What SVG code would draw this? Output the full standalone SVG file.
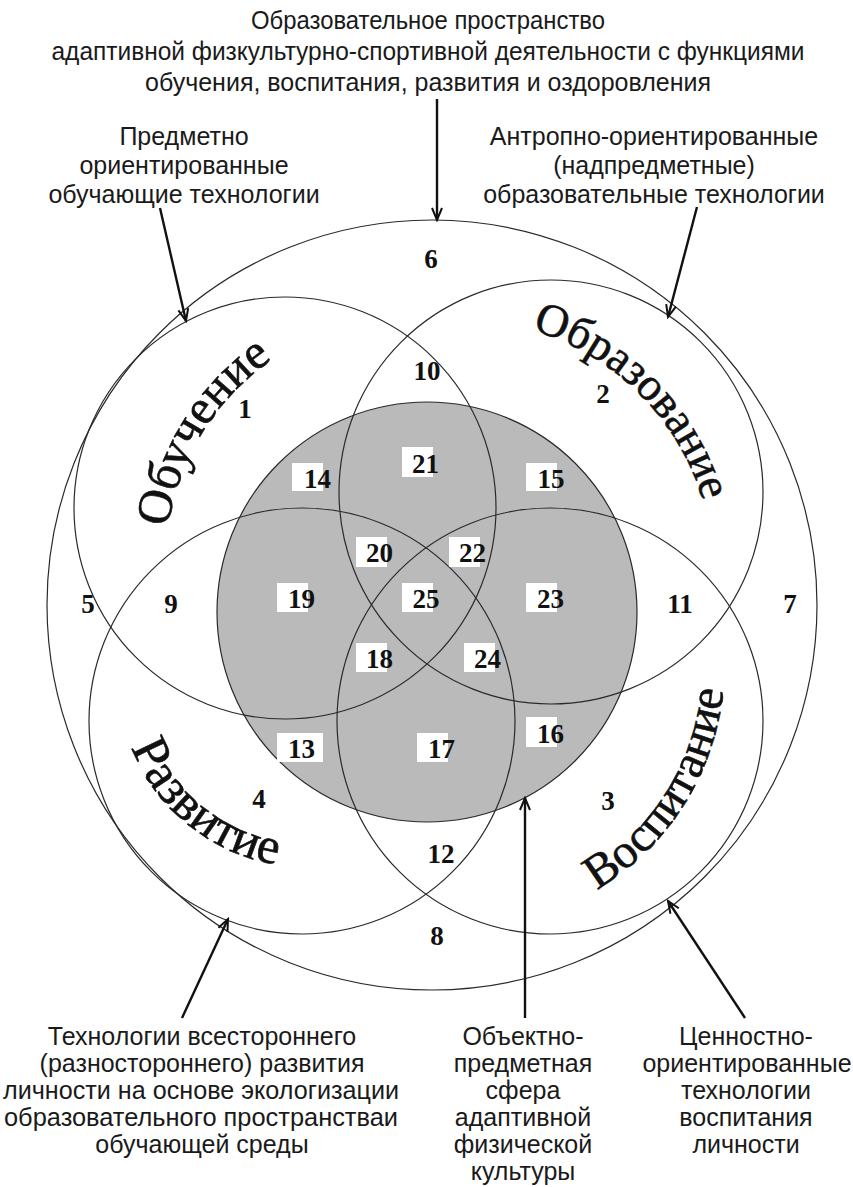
<svg xmlns="http://www.w3.org/2000/svg" width="853" height="1187" viewBox="0 0 853 1187">
<style>
.c{fill:none;stroke:#2a2a2a;stroke-width:1.2}
.lbl{font-family:"Liberation Sans",Arial,sans-serif;font-size:25px;fill:#1a1a1a;text-anchor:middle}
.n{font-family:"Liberation Serif","Times New Roman",serif;font-size:27px;font-weight:bold;fill:#111;text-anchor:middle}
.big{font-family:"Liberation Serif","Times New Roman",serif;font-size:49px;fill:#111;stroke:#111;stroke-width:0.6}
.box{fill:#fff}
.ar{fill:none;stroke:#111;stroke-width:2.4}
</style>
<defs>
<marker id="ah" viewBox="-14 -7 16 14" markerWidth="16" markerHeight="14" refX="0" refY="0" orient="auto" markerUnits="userSpaceOnUse"><path d="M-12,-5 L0,0 L-12,5" fill="none" stroke="#111" stroke-width="2"/></marker>
<path id="pOb" d="M170.6,611.2 A246,246 0 0 1 348.7,324.5"/>
<path id="pObr" d="M461,320 A252,252 0 0 1 713,572"/>
<path id="pRaz" d="M119.1,698.1 A189,189 0 0 0 327.1,865.9"/>
<path id="pVos" d="M520.1,920.6 A262,262 0 0 0 718.1,607.4"/>
</defs>
<rect width="853" height="1187" fill="#fff"/>
<g id="outer"><circle class="c" cx="432" cy="605" r="385"/></g>
<g id="core"><circle cx="427" cy="612" r="210" fill="#bababa" stroke="#2a2a2a" stroke-width="1.2"/></g>
<g id="obuchenie"><circle class="c" cx="285" cy="508" r="211"/><text class="big"><textPath href="#pOb" startOffset="50%" text-anchor="middle">Обучение</textPath></text></g>
<g id="obrazovanie"><circle class="c" cx="551" cy="492" r="212"/><text class="big" style="font-size:46px"><textPath href="#pObr" startOffset="50%" text-anchor="middle">Образование</textPath></text></g>
<g id="razvitie"><circle class="c" cx="302" cy="721" r="213"/><text class="big" style="font-size:51px"><textPath href="#pRaz" startOffset="50%" text-anchor="middle">Развитие</textPath></text></g>
<g id="vospitanie"><circle class="c" cx="550" cy="721" r="213"/><text class="big" style="font-size:48px"><textPath href="#pVos" startOffset="50%" text-anchor="middle">Воспитание</textPath></text></g>
<g id="boxes">
<rect class="box" x="292" y="463" width="31" height="28"/>
<rect class="box" x="402" y="447" width="31" height="30"/>
<rect class="box" x="526" y="463" width="31" height="28"/>
<rect class="box" x="356" y="537" width="31" height="30"/>
<rect class="box" x="449" y="537" width="31" height="30"/>
<rect class="box" x="277" y="583" width="31" height="29"/>
<rect class="box" x="402" y="583" width="31" height="29"/>
<rect class="box" x="526" y="583" width="31" height="29"/>
<rect class="box" x="356" y="643" width="31" height="29"/>
<rect class="box" x="464" y="643" width="31" height="29"/>
<rect class="box" x="277" y="733" width="46" height="29"/>
<rect class="box" x="417" y="733" width="31" height="29"/>
<rect class="box" x="526" y="717" width="31" height="30"/>
</g>
<g id="numbers">
<text class="n" x="245" y="418">1</text>
<text class="n" x="603" y="403">2</text>
<text class="n" x="608" y="810">3</text>
<text class="n" x="259" y="808">4</text>
<text class="n" x="88" y="613">5</text>
<text class="n" x="431" y="268">6</text>
<text class="n" x="790" y="613">7</text>
<text class="n" x="437" y="945">8</text>
<text class="n" x="171" y="613">9</text>
<text class="n" x="427" y="380">10</text>
<text class="n" x="680" y="613">11</text>
<text class="n" x="441" y="863">12</text>
<text class="n" x="301.5" y="758">13</text>
<text class="n" x="317.5" y="488">14</text>
<text class="n" x="551" y="488">15</text>
<text class="n" x="550.5" y="743">16</text>
<text class="n" x="441.5" y="758">17</text>
<text class="n" x="379.5" y="668">18</text>
<text class="n" x="301.5" y="608">19</text>
<text class="n" x="379.5" y="562">20</text>
<text class="n" x="425.5" y="473">21</text>
<text class="n" x="472.5" y="562">22</text>
<text class="n" x="550.5" y="608">23</text>
<text class="n" x="487.5" y="668">24</text>
<text class="n" x="426" y="608">25</text>
</g>
<g id="title">
<text class="lbl" x="428" y="29" textLength="354" lengthAdjust="spacingAndGlyphs">Образовательное пространство</text>
<text class="lbl" x="428" y="60" textLength="753" lengthAdjust="spacingAndGlyphs">адаптивной физкультурно-спортивной деятельности с функциями</text>
<text class="lbl" x="428" y="91" textLength="566" lengthAdjust="spacingAndGlyphs">обучения, воспитания, развития и оздоровления</text>
</g>
<g id="subject-tech">
<text class="lbl" x="184" y="145">Предметно</text>
<text class="lbl" x="184" y="174">ориентированные</text>
<text class="lbl" x="184" y="203">обучающие технологии</text>
</g>
<g id="anthropo-tech">
<text class="lbl" x="654" y="145">Антропно-ориентированные</text>
<text class="lbl" x="654" y="174">(надпредметные)</text>
<text class="lbl" x="654" y="203">образовательные технологии</text>
</g>
<g id="dev-tech">
<text class="lbl" x="202" y="1045">Технологии всестороннего</text>
<text class="lbl" x="202" y="1072">(разностороннего) развития</text>
<text class="lbl" x="201" y="1099" textLength="396" lengthAdjust="spacingAndGlyphs">личности на основе экологизации</text>
<text class="lbl" x="201" y="1126" textLength="394" lengthAdjust="spacingAndGlyphs">образовательного пространстваи</text>
<text class="lbl" x="202" y="1153">обучающей среды</text>
</g>
<g id="object-sphere">
<text class="lbl" x="523" y="1045">Объектно-</text>
<text class="lbl" x="523" y="1072">предметная</text>
<text class="lbl" x="523" y="1099">сфера</text>
<text class="lbl" x="523" y="1126">адаптивной</text>
<text class="lbl" x="523" y="1153">физической</text>
<text class="lbl" x="523" y="1180">культуры</text>
</g>
<g id="value-tech">
<text class="lbl" x="746" y="1045">Ценностно-</text>
<text class="lbl" x="747" y="1072">ориентированные</text>
<text class="lbl" x="746" y="1099">технологии</text>
<text class="lbl" x="746" y="1126">воспитания</text>
<text class="lbl" x="746" y="1153">личности</text>
</g>
<g id="connectors">
<line class="ar" x1="437" y1="99" x2="437" y2="220" marker-end="url(#ah)"/>
<line class="ar" x1="160" y1="208" x2="186" y2="321" marker-end="url(#ah)"/>
<line class="ar" x1="697" y1="207" x2="668" y2="317" marker-end="url(#ah)"/>
<line class="ar" x1="182" y1="1018" x2="228" y2="919" marker-end="url(#ah)"/>
<line class="ar" x1="745" y1="1018" x2="668" y2="901" marker-end="url(#ah)"/>
<line class="ar" x1="525" y1="1018" x2="525" y2="798" marker-end="url(#ah)"/>
</g>
</svg>
